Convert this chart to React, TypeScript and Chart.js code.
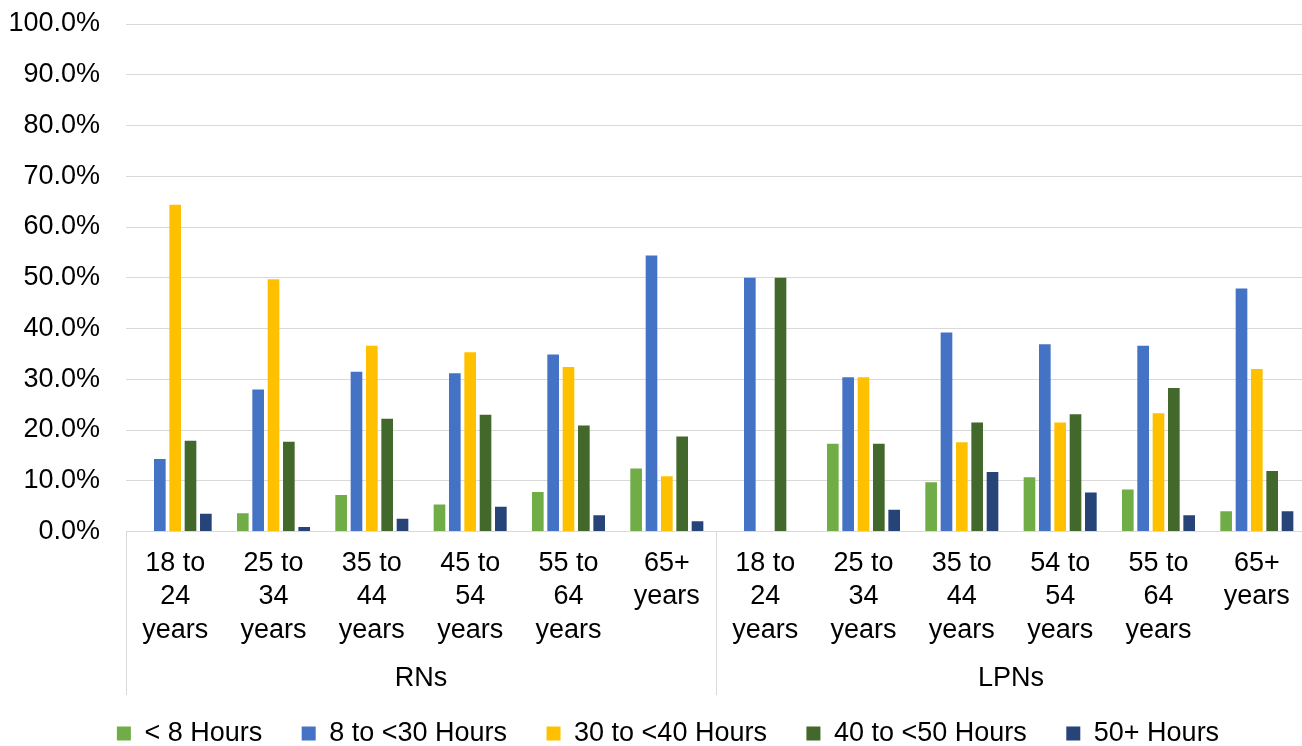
import React, { useEffect, useRef } from "react";
import { Chart, registerables } from "chart.js";

Chart.register(...registerables);

const ageLabels: string[][] = [
  ["18 to", "24", "years"],
  ["25 to", "34", "years"],
  ["35 to", "44", "years"],
  ["45 to", "54", "years"],
  ["55 to", "64", "years"],
  ["65+", "years"],
  ["18 to", "24", "years"],
  ["25 to", "34", "years"],
  ["35 to", "44", "years"],
  ["54 to", "54", "years"],
  ["55 to", "64", "years"],
  ["65+", "years"],
];

const groupLabels = ["RNs", "LPNs"];
const groupSizes = [6, 6];

const seriesNames = ["< 8 Hours", "8 to <30 Hours", "30 to <40 Hours", "40 to <50 Hours", "50+ Hours"];

const lessThan8 = [0, 3.6, 7.2, 5.3, 7.8, 12.4, 0, 17.3, 9.7, 10.7, 8.3, 4.0];
const from8to30 = [14.3, 28.0, 31.5, 31.2, 34.9, 54.4, 50.0, 30.4, 39.2, 36.9, 36.6, 47.9];
const from30to40 = [64.4, 49.7, 36.6, 35.3, 32.4, 10.9, 0, 30.4, 17.6, 21.5, 23.3, 32.0];
const from40to50 = [17.9, 17.7, 22.2, 23.0, 20.9, 18.7, 50.0, 17.3, 21.5, 23.1, 28.3, 11.9];
const over50 = [3.5, 0.9, 2.5, 4.9, 3.2, 2.0, 0, 4.3, 11.7, 7.7, 3.2, 4.0];

const seriesValues = [lessThan8, from8to30, from30to40, from40to50, over50];
const seriesColors = ["#70AD47", "#4472C4", "#FFC000", "#43682B", "#264478"];

const FONT = '"Liberation Sans", Arial, sans-serif';
const GRID = "#d9d9d9";

const groupPlugin = {
  id: "groupAxis",
  afterLayout(chart: any) {
    if (chart.legend) {
      chart.legend.left += 15;
      chart.legend.right += 15;
    }
  },
  afterDraw(chart: any) {
    const { ctx, chartArea } = chart;
    const x = chart.scales.x;
    const half = (x.getPixelForValue(1) - x.getPixelForValue(0)) / 2;
    const bottomY = 695;
    ctx.save();
    ctx.strokeStyle = GRID;
    ctx.lineWidth = 1;
    let start = 0;
    const bounds: number[] = [x.getPixelForValue(0) - half];
    groupSizes.forEach((n) => {
      start += n;
      bounds.push(x.getPixelForValue(start - 1) + half);
    });
    bounds.forEach((b) => {
      const px = Math.round(b) + 0.5;
      ctx.beginPath();
      ctx.moveTo(px, chartArea.bottom);
      ctx.lineTo(px, bottomY);
      ctx.stroke();
    });
    ctx.fillStyle = "#000";
    ctx.font = `27px ${FONT}`;
    ctx.textAlign = "center";
    ctx.textBaseline = "middle";
    groupLabels.forEach((g, i) => {
      ctx.fillText(g, (bounds[i] + bounds[i + 1]) / 2, 679);
    });
    ctx.restore();
  },
};

export default function App() {
  const canvasRef = useRef<HTMLCanvasElement | null>(null);

  useEffect(() => {
    if (!canvasRef.current) return;
    const chart = new Chart(canvasRef.current, {
      type: "bar",
      data: {
        labels: ageLabels,
        datasets: seriesNames.map((name, i) => ({
          label: name,
          data: seriesValues[i],
          backgroundColor: seriesColors[i],
          borderWidth: 0,
          categoryPercentage: 0.78,
          barPercentage: 0.76,
        })),
      },
      options: {
        animation: false,
        responsive: true,
        maintainAspectRatio: false,
        layout: { padding: { top: 24, left: 0, right: 4, bottom: 0 } },
        plugins: {
          tooltip: { enabled: false },
          legend: {
            position: "bottom",
            labels: {
              boxWidth: 14,
              boxHeight: 14,
              padding: 39.5,
              color: "#000",
              font: { size: 27, family: FONT },
            },
          },
        },
        scales: {
          x: {
            grid: { display: false, drawTicks: false },
            border: { display: true, color: GRID, width: 1 },
            ticks: {
              color: "#000",
              font: { size: 27, family: FONT, lineHeight: 1.24 },
              padding: 15,
              maxRotation: 0,
              autoSkip: false,
            },
            afterFit: (scale: any) => {
              scale.height = 149;
              scale.paddingLeft = 0;
              scale.paddingRight = 0;
            },
          },
          y: {
            min: 0,
            max: 100,
            border: { display: false },
            grid: { color: GRID, lineWidth: 1, drawTicks: false },
            ticks: {
              stepSize: 10,
              color: "#000",
              padding: 26,
              font: { size: 27, family: FONT },
              callback: (v: any) => `${Number(v).toFixed(1)}%`,
            },
            afterFit: (scale: any) => {
              scale.width = 126;
              scale.paddingTop = 0;
              scale.paddingBottom = 0;
            },
          },
        },
      },
      plugins: [groupPlugin],
    });
    return () => chart.destroy();
  }, []);

  return (
    <div style={{ position: "fixed", left: 0, top: 0, width: "1310px", height: "757px" }}>
      <canvas ref={canvasRef} />
    </div>
  );
}
